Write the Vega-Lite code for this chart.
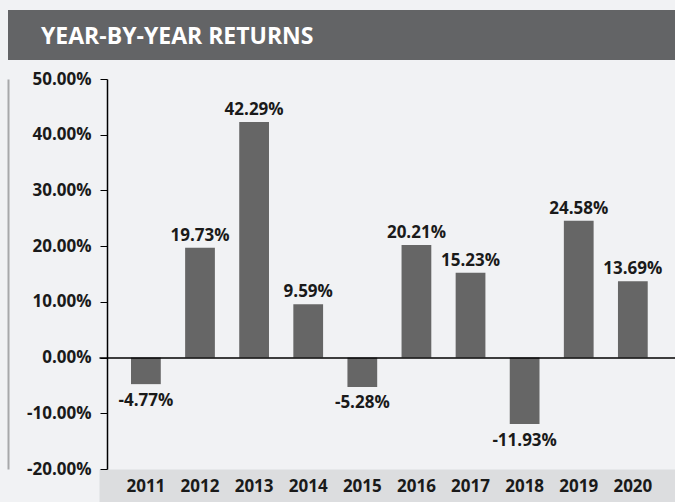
{
  "$schema": "https://vega.github.io/schema/vega-lite/v6.json",
  "background": "#f1f2f4",
  "padding": {"top": 10, "left": 8, "right": 0, "bottom": 12},
  "config": {
    "view": {"stroke": null},
    "font": "Open Sans",
    "locale": {
      "number": {"decimal": ".", "thousands": ",", "grouping": [3], "currency": ["$", ""], "minus": "-"}
    }
  },
  "spacing": 10,
  "vconcat": [
    {
      "width": 667,
      "height": 50,
      "data": {"values": [{"heading": "YEAR-BY-YEAR RETURNS"}]},
      "layer": [
        {
          "mark": {"type": "rect", "color": "#636466"},
          "encoding": {}
        },
        {
          "mark": {
            "type": "text",
            "align": "left",
            "baseline": "middle",
            "dx": 33,
            "dy": 2,
            "color": "#ffffff",
            "font": "Open Sans",
            "fontSize": 23,
            "fontWeight": "bold"
          },
          "encoding": {
            "x": {
              "field": "heading",
              "type": "nominal",
              "axis": null,
              "scale": {"type": "point", "padding": 0, "align": 0}
            },
            "text": {"field": "heading", "type": "nominal"}
          }
        }
      ]
    },
    {
      "width": 667,
      "height": 390,
      "data": {
        "values": [
          {"year": "2011", "ret": -0.0477},
          {"year": "2012", "ret": 0.1973},
          {"year": "2013", "ret": 0.4229},
          {"year": "2014", "ret": 0.0959},
          {"year": "2015", "ret": -0.0528},
          {"year": "2016", "ret": 0.2021},
          {"year": "2017", "ret": 0.1523},
          {"year": "2018", "ret": -0.1193},
          {"year": "2019", "ret": 0.2458},
          {"year": "2020", "ret": 0.1369}
        ]
      },
      "layer": [
        {
          "mark": {"type": "bar", "color": "#666666"},
          "encoding": {
            "x": {
              "field": "year",
              "type": "nominal",
              "sort": null,
              "scale": {"range": [91, 667], "paddingInner": 0.45, "paddingOuter": 0.548, "align": 0.54},
              "axis": {
                "orient": "bottom",
                "title": null,
                "labelAngle": 0,
                "labelFont": "Open Sans",
                "labelFontSize": 17,
                "labelFontWeight": "bold",
                "labelColor": "#1a1a1a",
                "labelBaseline": "middle",
                "labelPadding": 17,
                "ticks": false,
                "tickSize": 0,
                "domain": false,
                "zindex": 2
              }
            },
            "y": {
              "field": "ret",
              "type": "quantitative",
              "scale": {"domain": [-0.2, 0.5], "nice": false},
              "axis": {
                "orient": "left",
                "offset": -99,
                "title": null,
                "grid": false,
                "values": [-0.2, -0.1, 0, 0.1, 0.2, 0.3, 0.4, 0.5],
                "format": ".2%",
                "labelFont": "Open Sans",
                "labelFontSize": 17,
                "labelFontWeight": "bold",
                "labelColor": "#1a1a1a",
                "labelPadding": 9,
                "tickSize": 7,
                "tickColor": "#000000",
                "domainColor": "#000000",
                "domainWidth": 1.5,
                "zindex": 2
              }
            }
          }
        },
        {
          "transform": [{"filter": "datum.ret >= 0"}],
          "mark": {
            "type": "text",
            "baseline": "bottom",
            "dy": -3,
            "font": "Open Sans",
            "fontSize": 17,
            "fontWeight": "bold",
            "color": "#1a1a1a"
          },
          "encoding": {
            "x": {
              "field": "year",
              "type": "nominal",
              "sort": null,
              "axis": {
                "orient": "bottom",
                "offset": -111.43,
                "title": null,
                "labels": false,
                "ticks": false,
                "domainColor": "#000000",
                "domainWidth": 1.5,
                "zindex": 1
              }
            },
            "y": {
              "field": "ret",
              "type": "quantitative",
              "axis": {
                "orient": "left",
                "offset": 0,
                "title": null,
                "labels": false,
                "ticks": false,
                "grid": false,
                "domainColor": "#a7a8aa",
                "domainWidth": 2
              }
            },
            "text": {"field": "ret", "type": "quantitative", "format": ".2%"}
          }
        },
        {
          "transform": [{"filter": "datum.ret < 0"}],
          "mark": {
            "type": "text",
            "baseline": "top",
            "dy": 8.5,
            "font": "Open Sans",
            "fontSize": 17,
            "fontWeight": "bold",
            "color": "#1a1a1a"
          },
          "encoding": {
            "x": {
              "field": "year",
              "type": "nominal",
              "sort": null,
              "axis": {
                "orient": "bottom",
                "offset": 17,
                "title": null,
                "labels": false,
                "ticks": false,
                "domainColor": "#dcdddf",
                "domainWidth": 34,
                "zindex": 0
              }
            },
            "y": {"field": "ret", "type": "quantitative", "axis": null},
            "text": {"field": "ret", "type": "quantitative", "format": ".2%"}
          }
        }
      ],
      "resolve": {"axis": {"y": "independent", "x": "independent"}}
    }
  ]
}
